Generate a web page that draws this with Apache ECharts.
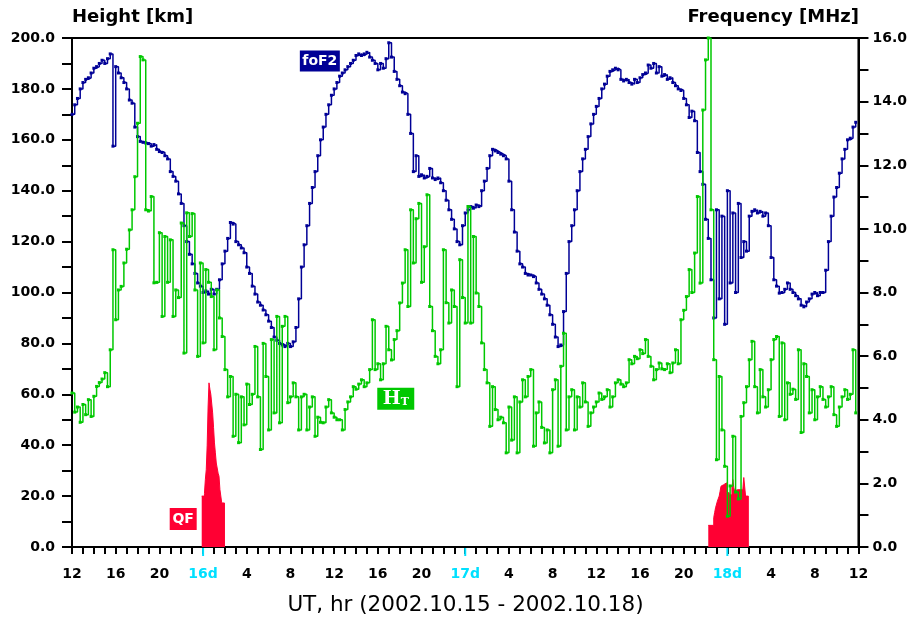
<!DOCTYPE html>
<html>
<head>
<meta charset="utf-8">
<script src="https://cdn.jsdelivr.net/npm/echarts@6/dist/echarts.min.js"></script>
<style>
  html, body { margin: 0; padding: 0; background: #ffffff; }
  #chart { width: 910px; height: 620px; }
</style>
</head>
<body>
<div id="chart"></div>
<script>
// Ionogram parameters, 2002.10.15 12 UT .. 2002.10.18 12 UT.
// x axis = hours since the start of the interval.
const startDay = 15;
const startHour = 12;
const spanHours = 72;

// foF2 [MHz] and H_T [km], one sample every 15 minutes from the start
const sampleStep = 0.25;
const foF2 = [
  13.6, 13.9, 14.1, 14.4, 14.6, 14.7, 14.75, 14.9,
  15.05, 15.1, 15.2, 15.3, 15.2, 15.35, 15.5, 12.6,
  15.1, 14.9, 14.75, 14.6, 14.4, 14.05, 13.95, 13.2,
  12.9, 12.75, 12.72, 12.7, 12.68, 12.6, 12.65, 12.5,
  12.43, 12.4, 12.3, 12.2, 11.8, 11.65, 11.5, 11.1,
  10.8, 10.1, 9.6, 9.2, 8.9, 8.6, 8.3, 8.2,
  8.0, 8.05, 7.95, 8.1, 7.95, 8.1, 8.4, 8.9,
  9.3, 9.7, 10.2, 10.15, 9.6, 9.5, 9.4, 9.25,
  8.8, 8.6, 8.2, 7.95, 7.7, 7.6, 7.45, 7.3,
  7.1, 6.9, 6.6, 6.5, 6.4, 6.35, 6.3, 6.4,
  6.3, 6.45, 6.9, 7.8, 8.8, 9.5, 10.1, 10.8,
  11.3, 11.8, 12.3, 12.8, 13.2, 13.6, 13.9, 14.2,
  14.4, 14.6, 14.8, 14.9, 15.0, 15.1, 15.2, 15.3,
  15.45, 15.5, 15.45, 15.5, 15.55, 15.4, 15.3, 15.2,
  15.0, 15.2, 15.05, 15.35, 15.85, 15.4, 14.95, 14.7,
  14.5, 14.3, 14.25, 13.6, 13.0, 11.8, 12.3, 11.65,
  11.7, 11.6, 11.65, 11.9, 11.6, 11.55, 11.6, 11.45,
  11.2, 10.9, 10.6, 10.3, 10.0, 9.6, 9.5, 10.1,
  10.5, 10.6, 10.7, 10.65, 10.75, 10.7, 11.2, 11.5,
  11.9, 12.3, 12.5, 12.45, 12.4, 12.35, 12.3, 12.2,
  11.5, 10.6, 9.9, 9.3, 8.9, 8.8, 8.6, 8.55,
  8.55, 8.5, 8.3, 8.1, 7.95, 7.8, 7.6, 7.3,
  7.0, 6.6, 6.3, 6.35, 7.4, 8.6, 9.6, 10.1,
  10.6, 11.2, 11.8, 12.2, 12.5, 12.9, 13.3, 13.6,
  13.85, 14.1, 14.4, 14.55, 14.8, 14.95, 15.0, 15.05,
  15.0, 14.7, 14.65, 14.7, 14.6, 14.55, 14.7, 14.6,
  14.75, 14.85, 14.9, 15.15, 15.05, 15.2, 14.9, 15.1,
  14.8, 14.85, 14.7, 14.75, 14.6, 14.5, 14.4, 14.35,
  14.1, 13.9, 13.5, 13.7, 13.4, 12.4, 11.8, 11.4,
  10.3, 9.7, 8.4, 7.2, 10.6, 7.8, 10.4, 7.0,
  11.2, 8.3, 10.5, 8.0, 10.8, 9.1, 9.6, 9.3,
  10.4, 10.55, 10.6, 10.5, 10.55, 10.4, 10.5, 10.1,
  9.1, 8.4, 8.2, 7.98, 8.0, 8.1, 8.3, 8.1,
  8.0, 7.9, 7.8, 7.6, 7.55, 7.7, 7.8, 7.95,
  8.0, 7.9, 8.0, 8.0, 8.7, 9.6, 10.4, 11.0,
  11.3, 11.75, 12.2, 12.5, 12.8, 12.85, 13.2, 13.35
];
const hT = [
  60.5, 53, 55, 49, 56, 52, 57.9, 51.3,
  59.2, 63.1, 64.6, 66, 68.5, 63, 77.5, 116.8,
  89.3, 101, 102.4, 111.6, 117, 124.6, 132.5, 145.5,
  166.5, 192.7, 191.4, 132.5, 132, 137.7, 103.8, 104,
  123.5, 90.6, 122, 104, 120.7, 90.6, 101, 98,
  127.3, 76.2, 131.3, 122, 131, 101, 74.9, 111.6,
  80.2, 109, 104, 98.4, 77.5, 101, 90, 82.7,
  69.7, 59, 67, 43.5, 60, 41, 59, 48,
  64, 56, 60, 78.8, 59, 38.3, 80, 67,
  46, 81.5, 52.7, 90.6, 48.8, 86.7, 90.6, 56.7,
  59, 64.5, 59, 46, 59, 60, 46, 55,
  59, 43.5, 51, 49, 48.8, 55, 57.9, 52.7,
  51, 50, 50, 46, 54, 57, 59, 63,
  62, 64, 65.7, 63, 64.5, 69.7, 89.3, 69.7,
  72, 65.7, 72, 86.7, 77.5, 73.5, 81.5, 85,
  95.9, 103.7, 116.8, 94.5, 132.5, 111.6, 129, 135,
  104, 118, 138.4, 94.5, 85, 74.9, 72, 77.5,
  116.8, 96, 88, 101, 94.5, 63, 112.9, 98,
  88, 133.8, 88, 122, 99.8, 94.5, 80.2, 69.7,
  64.5, 47.4, 63, 54, 50, 51, 48.8, 37,
  55, 42, 59, 37, 57, 65.7, 59, 67,
  69.7, 39.6, 52.7, 57, 47, 40.9, 46, 37,
  61.8, 65.7, 39.6, 71, 84, 46, 59, 61.8,
  46, 59, 55, 64.5, 57, 47.4, 52.7, 55,
  57, 60.5, 58, 59, 61.8, 55, 59, 64.5,
  65.7, 64, 63, 64.5, 73.6, 72, 74.9, 74,
  77.5, 76, 81.5, 74.9, 71, 65.7, 69.7, 72.3,
  70, 69.7, 72, 68.5, 72.3, 77.5, 72, 89.3,
  93, 98.4, 109, 100, 115.5, 137.7, 103.7, 171.7,
  191.4, 200, 132.5, 73.6, 34.3, 67, 46, 31.7,
  12.1, 24, 43.5, 21.6, 18.9, 51.3, 56.7, 63,
  73.6, 80.8, 63, 52.7, 69.7, 59, 55, 61.8,
  73.6, 81.5, 82.7, 51.3, 80.2, 50, 64.5, 60,
  62, 58, 77.5, 45, 72, 67, 52.7, 61.8,
  50, 59, 63, 58, 55, 59, 63, 52,
  47.4, 55, 59, 61.8, 58, 60, 77.5, 52.7
];

// QF [km], 5-minute bins, two disturbed intervals
const qfStep = 1 / 12;
const qfStart1 = 11.875;
const qf1 = [20, 20, 20, 21, 26.5, 30.4, 40, 55, 64.5, 62, 60, 60, 52.7,
             47, 40.9, 37, 33, 33, 29, 27.8, 22.6, 22.6, 17.3, 17.3, 17.3];
const qfStart2 = 58.25;
const qf2 = [8.5, 8.5, 8.5, 8.5, 8.5, 8.5, 11.5, 13.5, 15.4, 16, 18, 18.6,
             20, 21.9, 23.9, 23.9, 24.5, 24, 25, 25.2, 21.3, 21.3, 21.3, 20.5,
             20.5, 20.5, 23.3, 26.5, 23.3, 22, 22, 22.5, 22.5, 22, 22.5,
             22.5, 22.5, 22.5, 23, 27.3, 27.3, 20, 20, 20];

// day boundaries (00 UT) on the hour axis
const dayTicks = [12, 36, 60];

const BLUE = '#000096';
const GREEN = '#00c800';
const RED = '#ff0033';
const CYAN = '#00e0ff';
const FONT = 'DejaVu Sans';

const GRID = { left: 72, right: 51, top: 38, bottom: 73 };
const CHART_W = 910;

const toPairs = (arr, t0, dt) => arr.map((v, i) => [t0 + i * dt, v]);
// a QF block as a staircase: each bin holds until the next one, closed to zero at the end
const toBlock = (arr, t0, dt) => toPairs(arr, t0, dt).concat([[t0 + arr.length * dt, 0]]);

const hourLabel = (v) => {
  const t = v + startHour;
  const hr = t % 24;
  return hr === 0 ? (startDay + t / 24) + 'd' : String(hr);
};

const chart = echarts.init(document.getElementById('chart'), null, { renderer: 'canvas' });

const tickStyle = { color: '#000', width: 2 };
const labelStyle = { fontFamily: FONT, fontWeight: 'bold', fontSize: 14, color: '#000' };

const qfSeries = (data) => ({
  name: 'QF', type: 'line', step: 'end', xAxisIndex: 0, yAxisIndex: 0,
  data: data, showSymbol: false, silent: true, z: 2,
  lineStyle: { color: RED, width: 1 }, itemStyle: { color: RED },
  areaStyle: { color: RED, opacity: 1 }
});

chart.setOption({
  animation: false,
  backgroundColor: '#ffffff',
  grid: Object.assign({ show: true, borderColor: '#000', borderWidth: 2, backgroundColor: 'transparent' }, GRID),
  xAxis: {
    type: 'value', min: 0, max: spanHours, interval: 4,
    axisLine: { show: true, onZero: false, lineStyle: { color: '#000', width: 2 } },
    axisTick: { show: true, inside: false, length: 7, lineStyle: tickStyle },
    minorTick: { show: true, splitNumber: 4, length: 7, lineStyle: tickStyle },
    splitLine: { show: false },
    axisLabel: Object.assign({}, labelStyle, {
      margin: 20,
      formatter: hourLabel,
      color: (v) => ((Number(v) + startHour) % 24 === 0 ? CYAN : '#000')
    })
  },
  yAxis: [
    {
      type: 'value', min: 0, max: 200, interval: 20, position: 'left',
      axisLine: { show: true, lineStyle: { color: '#000', width: 2 } },
      axisTick: { show: true, inside: false, length: 10, lineStyle: tickStyle },
      minorTick: { show: true, splitNumber: 2, length: 10, lineStyle: tickStyle },
      splitLine: { show: false },
      axisLabel: Object.assign({}, labelStyle, { margin: 17, formatter: (v) => v.toFixed(1) })
    },
    {
      type: 'value', min: 0, max: 16, interval: 2, position: 'right',
      axisLine: { show: true, lineStyle: { color: '#000', width: 2 } },
      axisTick: { show: true, inside: false, length: 10, lineStyle: tickStyle },
      minorTick: { show: true, splitNumber: 2, length: 10, lineStyle: tickStyle },
      splitLine: { show: false },
      axisLabel: Object.assign({}, labelStyle, { margin: 14, formatter: (v) => v.toFixed(1) })
    }
  ],
  graphic: [
    { type: 'text', left: GRID.left, top: 8, style: { text: 'Height [km]', fontFamily: FONT, fontWeight: 'bold', fontSize: 18, fill: '#000' } },
    { type: 'text', right: GRID.right, top: 8, style: { text: 'Frequency [MHz]', fontFamily: FONT, fontWeight: 'bold', fontSize: 18, fill: '#000' } },
    {
      type: 'text', x: (GRID.left + CHART_W - GRID.right) / 2, y: 605,
      style: { text: 'UT, hr (2002.10.15 - 2002.10.18)', fontFamily: FONT, fontSize: 21.5, fill: '#000', align: 'center', verticalAlign: 'middle' }
    }
  ],
  series: [
    Object.assign(qfSeries(toBlock(qf1, qfStart1, qfStep)), {
      markPoint: {
        silent: true, symbol: 'rect', symbolSize: [27, 22],
        itemStyle: { color: RED },
        label: { show: true, position: 'inside', formatter: 'QF', color: '#fff', fontFamily: FONT, fontWeight: 'bold', fontSize: 14 },
        data: [{ coord: [10.18, 11.0] }]
      }
    }),
    qfSeries(toBlock(qf2, qfStart2, qfStep)),
    {
      name: 'foF2', type: 'line', step: 'end', xAxisIndex: 0, yAxisIndex: 1,
      data: toPairs(foF2, 0, sampleStep),
      symbol: 'rect', symbolSize: 3, showSymbol: true, showAllSymbol: true,
      lineStyle: { color: BLUE, width: 1.5 }, itemStyle: { color: BLUE }, z: 3,
      markPoint: {
        silent: true, symbol: 'rect', symbolSize: [40, 21],
        itemStyle: { color: BLUE },
        label: { show: true, position: 'inside', formatter: 'foF2', color: '#fff', fontFamily: FONT, fontWeight: 'bold', fontSize: 14 },
        data: [{ coord: [22.69, 15.28] }]
      }
    },
    {
      name: 'HT', type: 'line', step: 'end', xAxisIndex: 0, yAxisIndex: 0,
      data: toPairs(hT, 0, sampleStep),
      symbol: 'rect', symbolSize: 3, showSymbol: true, showAllSymbol: true,
      lineStyle: { color: GREEN, width: 1.5 }, itemStyle: { color: GREEN }, z: 4,
      markPoint: {
        silent: true, symbol: 'rect', symbolSize: [37, 22],
        itemStyle: { color: GREEN },
        label: {
          show: true, position: 'inside', formatter: '{h|H}{t|T}',
          rich: {
            h: { fontFamily: 'DejaVu Serif', fontWeight: 'bold', fontSize: 19, color: '#fff' },
            t: { fontFamily: 'DejaVu Serif', fontWeight: 'bold', fontSize: 11, color: '#fff', verticalAlign: 'bottom', padding: [6, 0, 0, 0] }
          }
        },
        data: [{ coord: [29.64, 58.3] }]
      }
    },
    {
      // day-boundary ticks on the time axis
      type: 'custom', xAxisIndex: 0, yAxisIndex: 0, silent: true, clip: false, z: 10,
      data: dayTicks.map((d) => [d, 0]),
      encode: { x: 0, y: 1 },
      renderItem: (params, api) => {
        const p = api.coord([api.value(0), 0]);
        return {
          type: 'line',
          shape: { x1: p[0], y1: p[1] + 1, x2: p[0], y2: p[1] + 9 },
          style: { stroke: CYAN, lineWidth: 2 }
        };
      }
    }
  ]
});
</script>
</body>
</html>
